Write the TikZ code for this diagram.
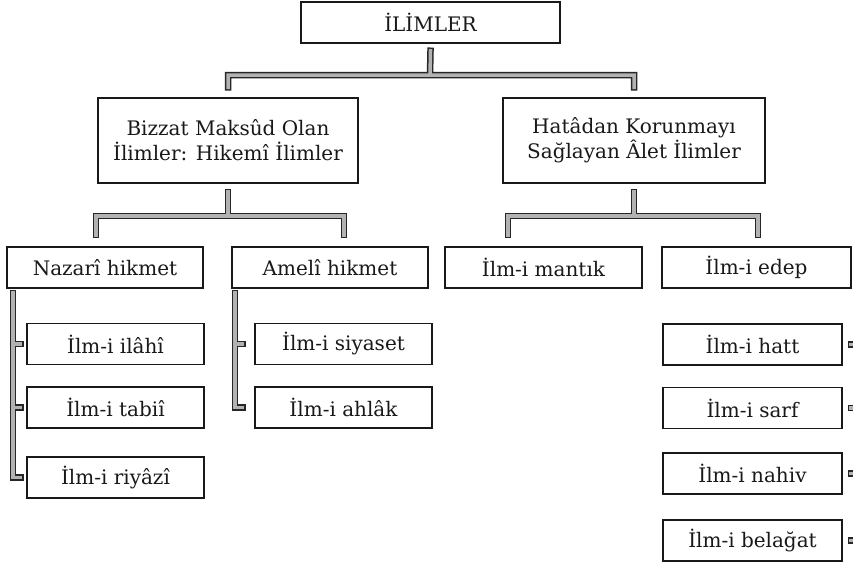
\documentclass[tikz,border=0pt]{standalone}
\usepackage{fontspec}
\setmainfont{DejaVu Serif}
\begin{document}
\begin{tikzpicture}[x=1pt,y=-1pt,
  box/.style={draw=black!90, line width=1.5pt, minimum height=41pt, inner sep=0pt,
    font=\fontsize{20}{25}\selectfont, text=black!90, align=center},
  railout/.style={line width=6.5pt, draw=black!85, line cap=rect, line join=miter},
  railin/.style={line width=3.5pt, draw=black!30, line cap=rect, line join=miter},
  rail/.style={railin, preaction={railout}}]
\useasboundingbox[fill=white] (0,0) rectangle (853,566);
% nodes
\node[box, minimum width=259pt] (top) at (430.5,22.5) {İLİMLER};
\node[box, minimum width=260pt, minimum height=85pt] (hik) at (228,140.5) {Bizzat Maksûd Olan\\İlimler: Hikemî İlimler};
\node[box, minimum width=262pt, minimum height=85pt] (alet) at (634,140.5) {Hatâdan Korunmayı\\Sağlayan Âlet İlimler};
\node[box, minimum width=196pt] (nazari) at (105,267.5) {Nazarî hikmet};
\node[box, minimum width=196pt] (ameli) at (330,267.5) {Amelî hikmet};
\node[box, minimum width=197pt] (mantik) at (543.5,267.5) {İlm-i mantık};
\node[box, minimum width=189pt] (edep) at (756.5,267.5) {İlm-i edep};
\node[box, minimum width=177pt] (ilahi) at (115.5,344) {İlm-i ilâhî};
\node[box, minimum width=177pt] (tabii) at (115.5,407.5) {İlm-i tabiî};
\node[box, minimum width=177pt] (riyazi) at (115.5,477.5) {İlm-i riyâzî};
\node[box, minimum width=177pt] (siyaset) at (343.5,344) {İlm-i siyaset};
\node[box, minimum width=177pt] (ahlak) at (343.5,407.5) {İlm-i ahlâk};
\node[box, minimum width=179pt] (hatt) at (752.5,344.5) {İlm-i hatt};
\node[box, minimum width=179pt] (sarf) at (752.5,408) {İlm-i sarf};
\node[box, minimum width=179pt] (nahiv) at (752.5,473.5) {İlm-i nahiv};
\node[box, minimum width=179pt] (belagat) at (752.5,540.5) {İlm-i belağat};
% bracket coordinates
\coordinate (t0) at ([yshift=-7pt]top.south);
\coordinate (tb) at (430,75);
\coordinate (h0) at ([yshift=10pt]hik.north);
\coordinate (a0) at ([yshift=10pt]alet.north);
\draw[rail] (t0) -- (tb) (h0) |- (tb) -| (a0);
\coordinate (hs) at ([yshift=-8pt]hik.south);
\coordinate (hb) at (hs |- 0,216);
\coordinate (n0) at (96,235);
\coordinate (m0) at (344,235);
\draw[rail] (hs) -- (hb) (n0) |- (hb) -| (m0);
\coordinate (as) at ([yshift=-8pt]alet.south);
\coordinate (ab) at (as |- 0,216);
\coordinate (k0) at (508,235);
\coordinate (e0) at (758,235);
\draw[rail] (as) -- (ab) (k0) |- (ab) -| (e0);
% side rails
\coordinate (nz) at (13,293);
\draw[rail] (nz) |- ([xshift=-6pt]riyazi.west)
  (nz |- ilahi.west) -- ([xshift=-6pt]ilahi.west)
  (nz |- tabii.west) -- ([xshift=-6pt]tabii.west);
\coordinate (am) at (235,293);
\draw[rail] (am) |- ([xshift=-12pt]ahlak.west)
  (am |- siyaset.west) -- ([xshift=-12pt]siyaset.west);
\foreach \n in {hatt,sarf,nahiv,belagat}{
  \draw[rail] ([xshift=8pt]\n.east) -- ([xshift=20pt]\n.east);
}
\end{tikzpicture}
\end{document}
